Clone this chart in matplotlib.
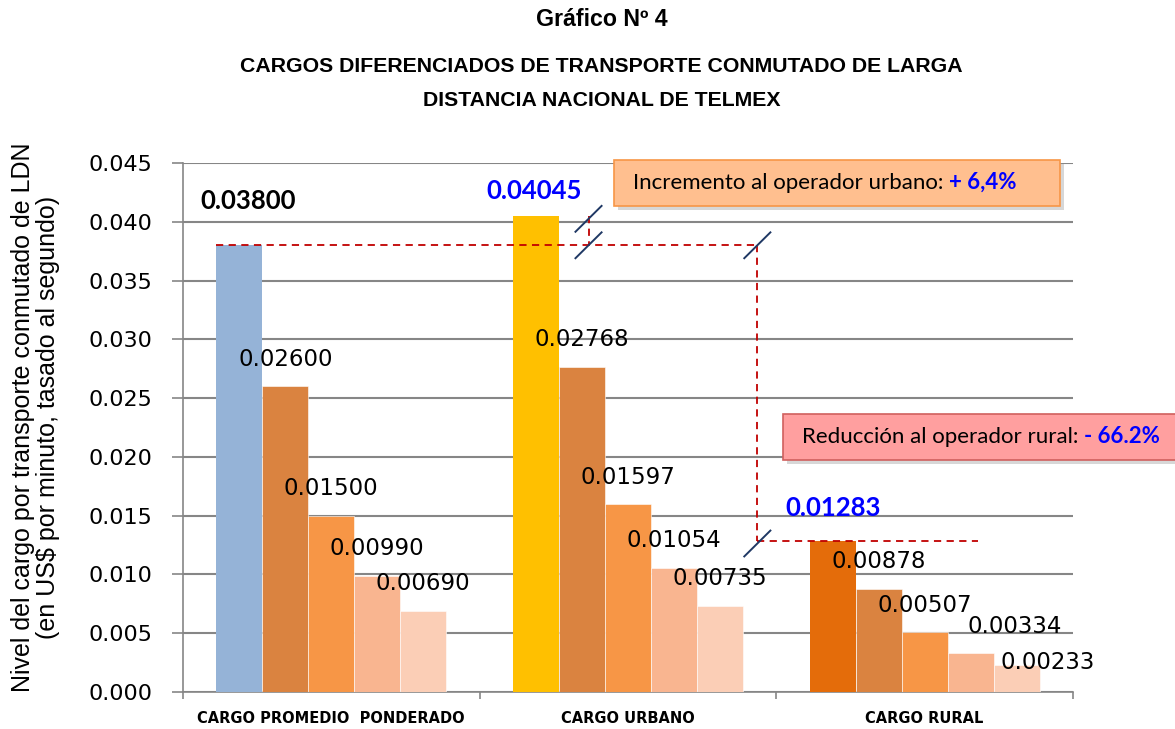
import numpy as np
import matplotlib
matplotlib.use("Agg")
import matplotlib.pyplot as plt
from matplotlib.patches import Rectangle

# datos (US$ por minuto)
categorias = ["CARGO PROMEDIO  PONDERADO", "CARGO URBANO", "CARGO RURAL"]
cargo_total = [0.03800, 0.04045, 0.01283]
tramo_1 = [0.02600, 0.02768, 0.00878]
tramo_2 = [0.01500, 0.01597, 0.00507]
tramo_3 = [0.00990, 0.01054, 0.00334]
tramo_4 = [0.00690, 0.00735, 0.00233]
yticks = [0.000, 0.005, 0.010, 0.015, 0.020, 0.025, 0.030, 0.035, 0.040, 0.045]

col_total = ["#95B3D7", "#FFC000", "#E46C0A"]
col_tramos = ["#DA8340", "#F79646", "#F9B590", "#FBCEB6"]

fig = plt.figure(figsize=(11.75, 7.29), dpi=100)
ax = fig.add_axes([0.1557, 0.0508, 0.7575, 0.7256])

x = np.arange(len(categorias))
w = 0.155

ax.bar(x - 2 * w, cargo_total, w, color=col_total, zorder=3)
series = [tramo_1, tramo_2, tramo_3, tramo_4]
for j, s in enumerate(series):
    ax.bar(x + (j - 1) * w, s, w, color=col_tramos[j], zorder=3,
           edgecolor="white", linewidth=0.4)

# etiquetas de valores
lbl_font = dict(family="DejaVu Sans", fontsize=16.5, color="black")
for j, s in enumerate(series):
    for i, v in enumerate(s):
        dx, dy = 0, 19.5
        if i == 2 and j == 2:
            dx, dy = 31.7, 18.7
        if i == 2 and j == 3:
            dx, dy = 22.3, 1.4
        ax.annotate("%.5f" % v, (x[i] + (j - 1) * w, v), xytext=(dx, dy),
                    textcoords="offset points", ha="center", va="center",
                    zorder=6, **lbl_font)

tot_off = [(6.5, 31.7), (-1.4, 18.7), (0, 23.8)]
tot_col = ["black", "#0000FF", "#0000FF"]
for i, v in enumerate(cargo_total):
    ax.annotate("%.5f" % v, (x[i] - 2 * w, v), xytext=tot_off[i],
                textcoords="offset points", ha="center", va="center",
                fontsize=18.5, fontweight="bold", family="Lato",
                color=tot_col[i], zorder=6)

# lineas de referencia
red = "#C00000"
xv = 1.436
ax.plot([x[0] - 2.5 * w, xv], [cargo_total[0]] * 2, ls=(0, (4, 3)), color=red, lw=1.3, zorder=4)
ax.plot([xv, xv], [cargo_total[0], cargo_total[2]], ls=(0, (4, 3)), color=red, lw=1.3, zorder=4)
ax.plot([xv, 2.180], [cargo_total[2]] * 2, ls=(0, (4, 3)), color=red, lw=1.3, zorder=4)
ax.plot([0.867, 0.867], [cargo_total[1], cargo_total[0]], ls=(0, (4, 3)), color=red, lw=1.3, zorder=4)

sdx, sdy = 0.044, 0.0011
for cx, cy in [(0.867, cargo_total[1] - 0.0002), (0.867, cargo_total[0]),
               (xv, cargo_total[0]), (xv, cargo_total[2] - 0.0002)]:
    ax.plot([cx - sdx, cx + sdx], [cy - sdy, cy + sdy], color="#1F3864", lw=1.4, zorder=5)

# ejes
ax.set_xlim(-0.5, 2.5)
ax.set_ylim(0, 0.045)
ax.set_yticks(yticks)
ax.set_yticklabels(["%.3f" % t for t in yticks], family="DejaVu Sans", fontsize=16)
ax.set_xticks(x)
ax.set_xticklabels(categorias, fontsize=10.5, fontweight="bold", family="Liberation Sans Narrow")
ax.set_xticks([-0.5, 0.5, 1.5, 2.5], minor=True)
ax.tick_params(axis="x", which="major", length=0, pad=14)
ax.tick_params(axis="x", which="minor", length=5, color="#868686", width=1.2)
ax.tick_params(axis="y", length=8, color="#868686", width=1.2, pad=14)
ax.grid(axis="y", color="#868686", lw=1.5, zorder=0)
for sp in ["top", "right"]:
    ax.spines[sp].set_visible(False)
for sp in ["left", "bottom"]:
    ax.spines[sp].set_color("#868686")
    ax.spines[sp].set_linewidth(1.2)

# titulos
fig.text(0.512, 0.973, "Gráfico Nº 4", ha="center", va="center",
         family="Liberation Sans", fontweight="bold", fontsize=16.7)
fig.text(0.512, 0.909, "CARGOS DIFERENCIADOS DE TRANSPORTE CONMUTADO DE LARGA",
         ha="center", va="center", family="Liberation Sans", fontweight="bold", fontsize=15.3)
fig.text(0.512, 0.862, "DISTANCIA NACIONAL DE TELMEX", ha="center", va="center",
         family="Liberation Sans", fontweight="bold", fontsize=15.3)
fig.text(0.030, 0.428, "Nivel del cargo por transporte conmutado de LDN\n(en US$ por minuto, tasado al segundo)",
         rotation=90, ha="center", va="center", family="Liberation Sans",
         fontsize=18, linespacing=1.05)

# cuadros de texto
W, H = 1175.0, 729.0


def caja(x0, y0, x1, y1, fc, ec, txt, valor):
    sh = Rectangle(((x0 + 4) / W, 1 - (y1 + 4) / H), (x1 - x0) / W, (y1 - y0) / H,
                   transform=fig.transFigure, facecolor="#B0B0B0", edgecolor="none",
                   alpha=0.5, zorder=7, clip_on=False)
    bx = Rectangle((x0 / W, 1 - y1 / H), (x1 - x0) / W, (y1 - y0) / H,
                   transform=fig.transFigure, facecolor=fc, edgecolor=ec, lw=1.2,
                   zorder=8, clip_on=False)
    ax.add_patch(sh)
    ax.add_patch(bx)
    t = ax.text((x0 + 19) / W, 1 - (y0 + y1) / 2 / H, txt, ha="left", va="center",
                transform=fig.transFigure, family="Lato", fontsize=16, zorder=9,
                clip_on=False)
    ax.annotate(valor, xy=(1, 0), xycoords=t, va="bottom", ha="left",
                family="Lato", fontsize=16, fontweight="bold", color="#0000FF",
                annotation_clip=False, zorder=9)


caja(614, 160, 1060, 206, "#FFBF8F", "#F79646", "Incremento al operador urbano: ", "+ 6,4%")
caja(783, 414, 1185, 460, "#FF9F9F", "#D0605E", "Reducción al operador rural: ", "- 66.2%")

fig.savefig("out.png", dpi=100)
